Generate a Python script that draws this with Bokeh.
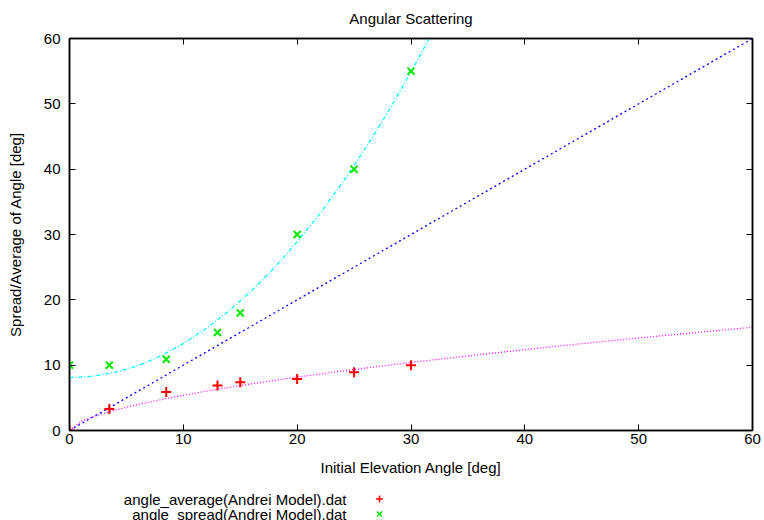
from bokeh.plotting import figure
from bokeh.layouts import column
from bokeh.models import LinearAxis, Range1d, ColumnDataSource
from bokeh.core.properties import value
from bokeh.embed import file_html
from bokeh.resources import INLINE

# measured points
elevation = [0, 3.5, 8.5, 13, 15, 20, 25, 30]
angle_average = [0, 3.3, 5.9, 6.9, 7.4, 7.9, 8.9, 10.0]
angle_spread = [10, 10, 10.9, 15, 18, 30, 40, 55]

# reference line (spread equals elevation)
diag_x = [0, 60]
diag_y = [0, 60]

# model curve for the average angle
avg_fit_x = [0, 1, 2, 3, 4, 5, 6, 8, 10, 12, 15, 20, 25, 30, 35, 40, 45, 50, 55, 60]
avg_fit_y = [0, 1.35, 2.05, 2.62, 3.11, 3.56, 3.97, 4.71, 5.39, 6.02, 6.88, 8.17,
             9.34, 10.42, 11.42, 12.38, 13.29, 14.16, 14.98, 15.80]

# model curve for the angular spread
spread_fit_x = [0, 2, 4, 6, 8, 10, 12, 14, 16, 18, 20, 22, 24, 26, 28, 30, 31.7]
spread_fit_y = [8.1, 8.3, 8.9, 9.9, 11.4, 13.3, 15.6, 18.3, 21.4, 24.9, 28.9, 33.2,
                38.0, 43.2, 48.8, 54.9, 60.3]

ticks = [0, 10, 20, 30, 40, 50, 60]
key_labels = ["angle_average(Andrei Model).dat", "angle_spread(Andrei Model).dat"]

FONT = "Liberation Sans"
FSIZE = "15px"
RED = "#ff0000"
GREEN = "#00e800"

p = figure(width=764, height=490, output_backend="svg", toolbar_location=None,
           x_range=Range1d(0, 60), y_range=Range1d(0, 60),
           min_border_left=69, min_border_right=12, min_border_top=38,
           min_border_bottom=60, title="Angular Scattering")
p.title.align = "center"
p.title.vertical_align = "top"
p.title.text_font = FONT
p.title.text_font_size = FSIZE
p.title.text_font_style = "normal"
p.title.text_color = "black"
p.title.standoff = 19

p.xgrid.visible = False
p.ygrid.visible = False
p.outline_line_color = "black"
p.outline_line_width = 1.5
p.background_fill_color = "white"
p.border_fill_color = "white"

for ax in (p.xaxis[0], p.yaxis[0]):
    ax.ticker = ticks
    ax.major_tick_in = 6
    ax.major_tick_out = 0
    ax.minor_tick_line_color = None
    ax.major_tick_line_color = "black"
    ax.axis_line_color = "black"
    ax.axis_line_width = 1.5
    ax.major_label_text_font = FONT
    ax.major_label_text_font_size = FSIZE
    ax.major_label_text_color = "black"
    ax.axis_label_text_font = FONT
    ax.axis_label_text_font_size = FSIZE
    ax.axis_label_text_font_style = "normal"
    ax.axis_label_text_color = "black"

p.xaxis[0].axis_label = "Initial Elevation Angle [deg]"
p.yaxis[0].axis_label = "Spread/Average of Angle [deg]"
p.xaxis[0].major_label_standoff = 3
p.xaxis[0].axis_label_standoff = 12
p.yaxis[0].major_label_standoff = 9
p.yaxis[0].axis_label_standoff = 17

# mirrored ticks on the top and right edges, without labels
for side in ("above", "right"):
    ax = LinearAxis(ticker=ticks)
    ax.major_tick_in = 6
    ax.major_tick_out = 0
    ax.minor_tick_line_color = None
    ax.major_tick_line_color = "black"
    ax.axis_line_color = "black"
    ax.axis_line_width = 1.5
    ax.major_label_overrides = {t: "" for t in ticks}
    ax.major_label_text_color = None
    ax.major_label_text_font_size = "1px"
    ax.major_label_standoff = 0
    p.add_layout(ax, side)

# fitted curves
p.line(diag_x, diag_y, line_color="#0000ff", line_width=1.3, line_dash="2 3")
p.line(avg_fit_x, avg_fit_y, line_color="#ff00ff", line_width=1.3, line_dash="1 2")
p.line(spread_fit_x, spread_fit_y, line_color="#00ffff", line_width=1.3, line_dash="4 2 1 2")

src = ColumnDataSource(dict(x=elevation, avg=angle_average, spread=angle_spread))
p.scatter("x", "avg", source=src, marker="cross", size=10, line_color=RED, line_width=2)
p.scatter("x", "spread", source=src, marker="x", size=10, line_color=GREEN, line_width=2)

# key strip under the chart: label text followed by its marker.
# Its frame lines up with the chart frame, so x runs in page pixels 69..752.
key = figure(width=764, height=30, output_backend="svg", toolbar_location=None,
             title=None, x_range=Range1d(69, 752), y_range=Range1d(30, 0),
             min_border_left=69, min_border_right=12, min_border_top=0,
             min_border_bottom=0, x_axis_type=None, y_axis_type=None)
key.outline_line_color = None
key.xgrid.visible = False
key.ygrid.visible = False
key.background_fill_color = "white"
key.border_fill_color = "white"

key_src = ColumnDataSource(dict(label=key_labels, tx=[346, 346], y=[8.5, 23.5]))
key.text("tx", "y", text="label", source=key_src, text_align="right",
         text_baseline="middle", text_font=value(FONT), text_font_size=FSIZE,
         text_color="black")
key.scatter([379], [8.5], marker="cross", size=7, line_color=RED, line_width=1.5)
key.scatter([379], [23.5], marker="x", size=7, line_color=GREEN, line_width=1.5)

open("out.html", "w").write(file_html(column(p, key, spacing=0), INLINE))
